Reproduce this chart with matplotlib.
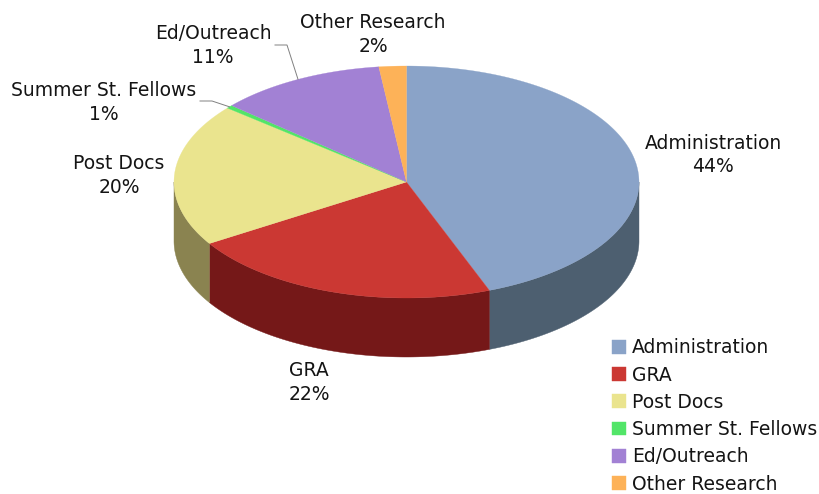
import numpy as np
import matplotlib
matplotlib.use("Agg")
import matplotlib.pyplot as plt
from matplotlib.patches import Polygon, Patch

categories = ["Administration", "GRA", "Post Docs", "Summer St. Fellows", "Ed/Outreach", "Other Research"]
# slice sizes, the printed labels are rounded differently
shares = [44.2, 21.9, 19.9, 0.45, 11.65, 1.9]
printed = ["44%", "22%", "20%", "1%", "11%", "2%"]

top_colors = ["#8aa3c8", "#cb3833", "#eae48e", "#52e568", "#a281d4", "#fdb258"]
wall_colors = ["#4d5f70", "#751818", "#8a8350", "#2a7a38", "#55447a", "#8a6030"]

# pie geometry in pixels
CX, CY = 406.5, 182
RX, RY = 232.5, 116
DEPTH = 59
FONT = 13.5


def rim(t):
    t = np.radians(t)
    return CX + RX * np.sin(t), CY - RY * np.cos(t)


fig = plt.figure(figsize=(8.2, 4.94), dpi=100)
ax = fig.add_axes([0, 0, 1, 1])
ax.set_xlim(0, 820)
ax.set_ylim(494, 0)
ax.axis("off")

edges = np.cumsum([0] + shares) * 3.6

# walls first, only the front half of the rim shows
for i in range(len(shares)):
    a = max(edges[i], 90)
    b = min(edges[i + 1], 270)
    if b <= a:
        continue
    ts = np.linspace(a, b, 120)
    xs, ys = rim(ts)
    pts = list(zip(xs, ys)) + list(zip(xs[::-1], ys[::-1] + DEPTH))
    ax.add_patch(Polygon(pts, closed=True, fc=wall_colors[i], ec=wall_colors[i], lw=0.3))

# top faces
for i in range(len(shares)):
    ts = np.linspace(edges[i], edges[i + 1], 200)
    xs, ys = rim(ts)
    pts = [(CX, CY)] + list(zip(xs, ys))
    ax.add_patch(Polygon(pts, closed=True, fc=top_colors[i], ec=top_colors[i], lw=0.2))

# labels
label_pos = [(713, 155), (309, 382.5), (119, 175.5), (103.5, 102.5), (213, 45.5), (373, 34.5)]
for name, pct, (x, y) in zip(categories, printed, label_pos):
    ax.text(x, y, f"{name}\n{pct}", ha="center", va="center", fontsize=FONT,
            color="#141414", linespacing=1.28, family="DejaVu Sans")

# leader lines for the two labels sitting off their slices
mid = (edges[:-1] + edges[1:]) / 2
for i, elbow, end in [(3, (212, 101), (200, 101)), (4, (287, 45), (275, 45))]:
    x0, y0 = rim(mid[i])
    ax.plot([x0, elbow[0], end[0]], [y0, elbow[1], end[1]], color="#808080", lw=0.7)

handles = [Patch(fc=c, ec=c, lw=0.3) for c in top_colors]
ax.legend(handles, categories, loc="lower left", bbox_to_anchor=(612 / 820, 0.001),
          frameon=False, fontsize=FONT, handlelength=0.75, handleheight=0.75,
          handletextpad=0.33, labelspacing=0.44, borderpad=0, borderaxespad=0,
          labelcolor="#141414")

fig.savefig("out.png", dpi=100)
